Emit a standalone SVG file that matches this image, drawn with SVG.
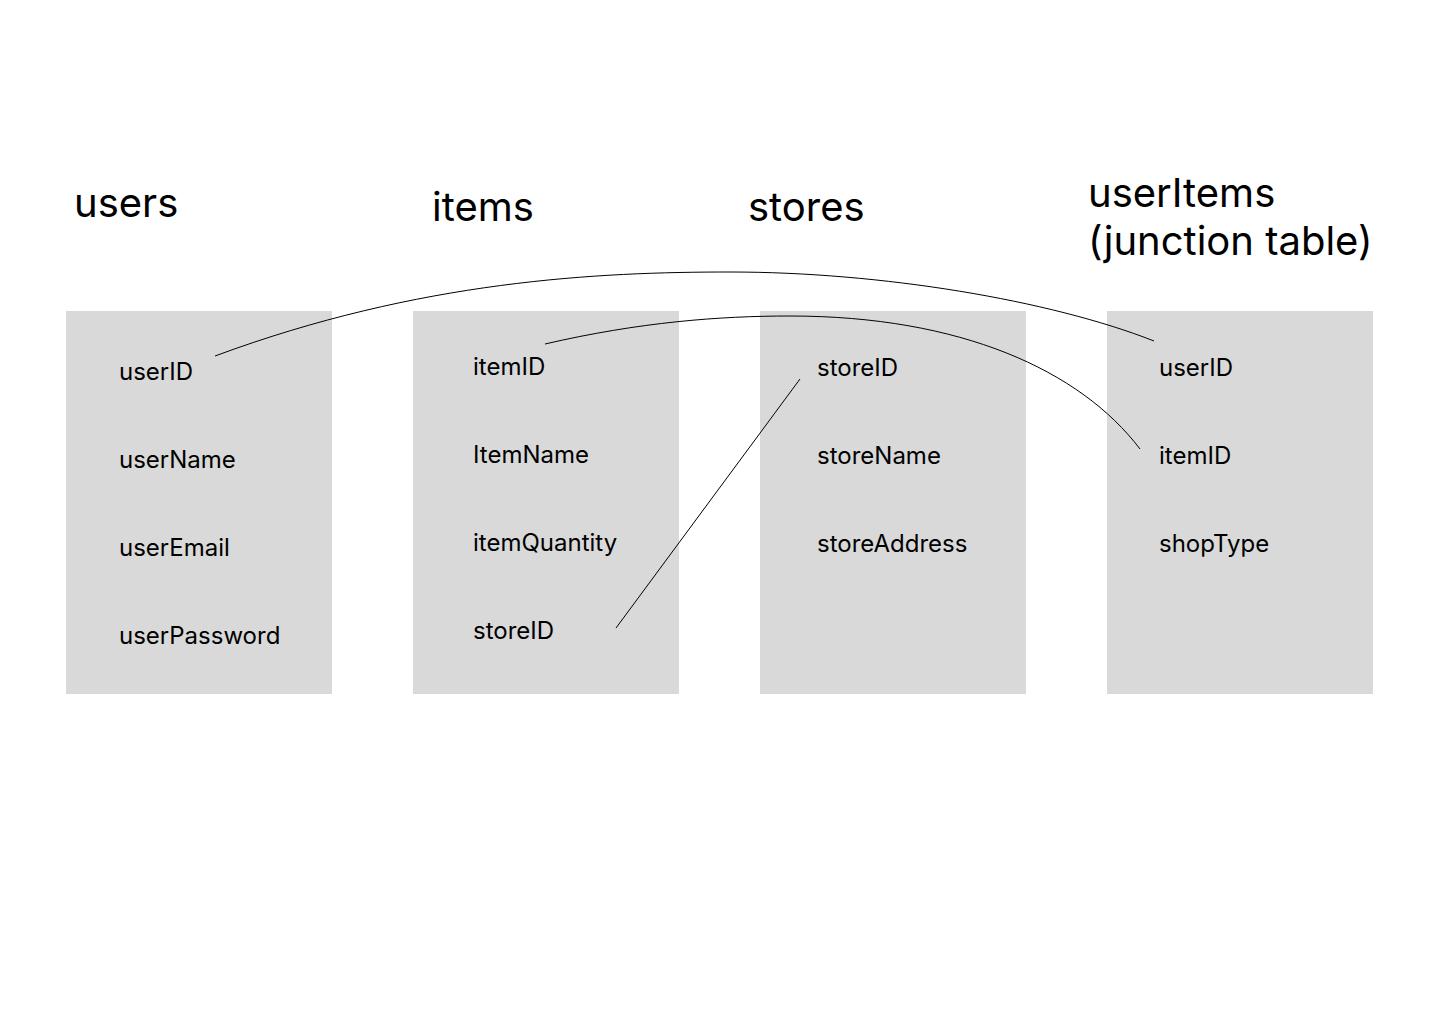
<svg xmlns="http://www.w3.org/2000/svg" width="1440" height="1024" viewBox="0 0 1440 1024">
<style>
.box{fill:#d9d9d9}
.title{font-family:Inter,"Liberation Sans",sans-serif;font-size:40px;fill:#000}
.field{font-family:Inter,"Liberation Sans",sans-serif;font-size:24px;fill:#000}
.conn{fill:none;stroke:#000;stroke-width:1}
</style>
<rect width="1440" height="1024" fill="#fff"/>
<g id="users">
<text class="title" x="74" y="217">users</text>
<rect class="box" x="66" y="311" width="266" height="383"/>
<text class="field" x="119" y="380">userID</text>
<text class="field" x="119" y="468">userName</text>
<text class="field" x="119" y="556">userEmail</text>
<text class="field" x="119" y="644">userPassword</text>
</g>
<g id="items">
<text class="title" x="432" y="221">items</text>
<rect class="box" x="413" y="311" width="266" height="383"/>
<text class="field" x="473" y="375">itemID</text>
<text class="field" x="473" y="463">ItemName</text>
<text class="field" x="473" y="551">itemQuantity</text>
<text class="field" x="473" y="639">storeID</text>
</g>
<g id="stores">
<text class="title" x="748" y="221">stores</text>
<rect class="box" x="760" y="311" width="266" height="383"/>
<text class="field" x="817" y="376">storeID</text>
<text class="field" x="817" y="464">storeName</text>
<text class="field" x="817" y="552">storeAddress</text>
</g>
<g id="userItems">
<text class="title" x="1088" y="207">userItems</text>
<text class="title" x="1088" y="255">(junction table)</text>
<rect class="box" x="1107" y="311" width="266" height="383"/>
<text class="field" x="1159" y="376">userID</text>
<text class="field" x="1159" y="464">itemID</text>
<text class="field" x="1159" y="552">shopType</text>
</g>
<g id="connectors">
<path class="conn" d="M215,356 C420,280 600,272 730,272 C880,272 1050,300 1154,341"/>
<path class="conn" d="M545,344 C640,322 720,316 790,316 C960,316 1080,370 1140,449"/>
<path class="conn" d="M800,379 L616,628"/>
</g>
</svg>
